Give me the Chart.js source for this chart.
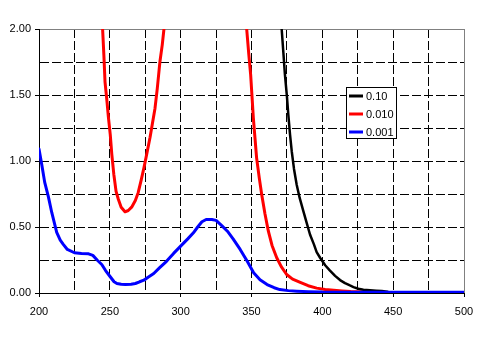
<!DOCTYPE html>
<html>
<head>
<meta charset="utf-8">
<script src="https://cdn.jsdelivr.net/npm/chart.js@4"></script>
<style>
html,body{margin:0;padding:0;background:#fff;}
#wrap{width:482px;height:340px;}
</style>
</head>
<body>
<div id="wrap"><canvas id="c" width="482" height="340"></canvas></div>
<script>
// ---- data ----
const seriesLabels = ['0.10', '0.010', '0.001'];
const seriesColors = ['#000000', '#ff0000', '#0000ff'];

const blackX = [371.1,371.3,372.5,373.6,375,376,377.2,378.4,380,381.9,384,386.6,389,391.3,394,396,398.4,402,405.4,409,412.5,416,419.5,422,425.4,429,433.6,438,442,446];
const blackY = [2.05,2.0,1.82,1.655,1.49,1.35,1.2,1.074,0.94,0.82,0.72,0.62,0.53,0.443,0.37,0.31,0.267,0.21,0.17,0.13,0.098,0.075,0.057,0.045,0.032,0.025,0.021,0.018,0.015,0.01];

const redX = [244.8,244.9,245.8,246.6,248,249,250.3,251.4,252.8,254.4,256,258,260.7,263,265.4,268,270,272,274.1,276,278.4,280,281.9,283.5,285.4,287,288.2,288.5,300,346.4,346.6,348,349.4,351.3,353.6,355.5,357.2,359.5,361.9,364.5,367.8,371,374.8,379,384.4,390,396,402,408,414,420,430];
const redY = [2.05,2.0,1.8,1.6,1.45,1.33,1.2,1.05,0.9,0.77,0.71,0.65,0.615,0.625,0.65,0.70,0.76,0.85,0.95,1.05,1.18,1.28,1.40,1.55,1.756,1.88,2.0,2.05,null,2.05,2.0,1.82,1.655,1.327,1.024,0.87,0.746,0.60,0.468,0.36,0.267,0.20,0.14,0.105,0.08,0.055,0.037,0.027,0.021,0.016,0.012,0.008];

const blueX = [200,202,204,206.6,209,212.5,215,217,220,225,230,235,238,241,244.3,247,250,253,255,258,261,265,268,271,274,277,281,285,290,295,300,305,309,312,315,318,322,325,329,333,337,342,347,351.5,356,361,366,370,376,382,390,400,420,460,500];
const blueY = [1.09,0.97,0.84,0.73,0.61,0.46,0.40,0.37,0.33,0.305,0.30,0.297,0.285,0.25,0.216,0.17,0.127,0.085,0.072,0.066,0.064,0.066,0.072,0.085,0.097,0.12,0.148,0.19,0.24,0.30,0.355,0.41,0.456,0.50,0.54,0.557,0.557,0.55,0.51,0.468,0.41,0.33,0.24,0.153,0.10,0.064,0.04,0.026,0.018,0.014,0.01,0.007,0.006,0.005,0.005];

const xTickLabels = [200, 250, 300, 350, 400, 450, 500];
const yTickLabels = ['0.00', '0.50', '1.00', '1.50', '2.00'];

// ---- helpers ----
const pts = (xs, ys) => xs.map((x, i) => ({x: x, y: ys[i]}));
const isXLabel = v => xTickLabels.indexOf(v) !== -1;
const isYLabel = v => yTickLabels.indexOf(Number(v).toFixed(2)) !== -1;

Chart.defaults.font.family = '"Liberation Sans", Arial, sans-serif';
Chart.defaults.font.size = 11;
Chart.defaults.color = '#000';

const legendBox = {
  id: 'legendBox',
  afterDatasetsDraw(chart) {
    const ctx = chart.ctx;
    const left = 346, top = 87, w = 50, h = 51;
    ctx.save();
    ctx.fillStyle = '#fff';
    ctx.fillRect(left, top, w, h);
    ctx.strokeStyle = '#000';
    ctx.lineWidth = 1;
    ctx.strokeRect(left + 0.5, top + 0.5, w, h);
    ctx.font = '11px "Liberation Sans", Arial, sans-serif';
    ctx.textBaseline = 'middle';
    ctx.textAlign = 'left';
    chart.data.datasets.forEach((ds, i) => {
      const cy = top + 9 + i * 18;
      ctx.strokeStyle = ds.borderColor;
      ctx.lineWidth = 3;
      ctx.beginPath();
      ctx.moveTo(left + 3, cy);
      ctx.lineTo(left + 17, cy);
      ctx.stroke();
      ctx.fillStyle = '#000';
      ctx.fillText(ds.label, left + 20, cy + 0.5);
    });
    ctx.restore();
  }
};

new Chart(document.getElementById('c'), {
  type: 'line',
  data: {
    datasets: [
      {label: seriesLabels[0], data: pts(blackX, blackY), borderColor: seriesColors[0], borderWidth: 2.5, order: 1},
      {label: seriesLabels[1], data: pts(redX, redY), borderColor: seriesColors[1], borderWidth: 3, order: 1},
      {label: seriesLabels[2], data: pts(blueX, blueY), borderColor: seriesColors[2], borderWidth: 3, order: 0}
    ]
  },
  options: {
    responsive: false,
    animation: false,
    devicePixelRatio: 1,
    parsing: false,
    spanGaps: false,
    elements: {
      point: {radius: 0},
      line: {tension: 0, borderCapStyle: 'round', borderJoinStyle: 'round'}
    },
    layout: {padding: {top: 29, right: 18, left: 0, bottom: 0}},
    plugins: {legend: {display: false}, tooltip: {enabled: false}},
    scales: {
      x: {
        type: 'linear',
        min: 200, max: 500,
        afterFit: s => { s.height = 47; },
        ticks: {
          stepSize: 25,
          padding: 8,
          maxRotation: 0,
          autoSkip: false,
          callback: v => isXLabel(v) ? String(v) : ''
        },
        grid: {
          color: c => (c.tick && c.tick.value === 500) ? '#808080' : '#000',
          tickLength: 4,
          tickColor: c => (c.tick && isXLabel(c.tick.value)) ? '#000' : 'rgba(0,0,0,0)'
        },
        border: {
          color: '#000', width: 1,
          dash: c => (c.tick && c.tick.value === 500) ? [] : [9, 3]
        }
      },
      y: {
        min: 0, max: 2,
        afterFit: s => { s.width = 39; },
        ticks: {
          stepSize: 0.25,
          padding: 4,
          autoSkip: false,
          callback: v => isYLabel(v) ? Number(v).toFixed(2) : ''
        },
        grid: {
          color: c => (c.tick && c.tick.value === 2) ? '#808080' : '#000',
          tickLength: 4,
          tickColor: c => (c.tick && isYLabel(c.tick.value)) ? '#000' : 'rgba(0,0,0,0)'
        },
        border: {
          color: '#000', width: 1,
          dash: c => (c.tick && c.tick.value === 2) ? [] : [9, 3]
        }
      }
    }
  },
  plugins: [legendBox]
});
</script>
</body>
</html>
